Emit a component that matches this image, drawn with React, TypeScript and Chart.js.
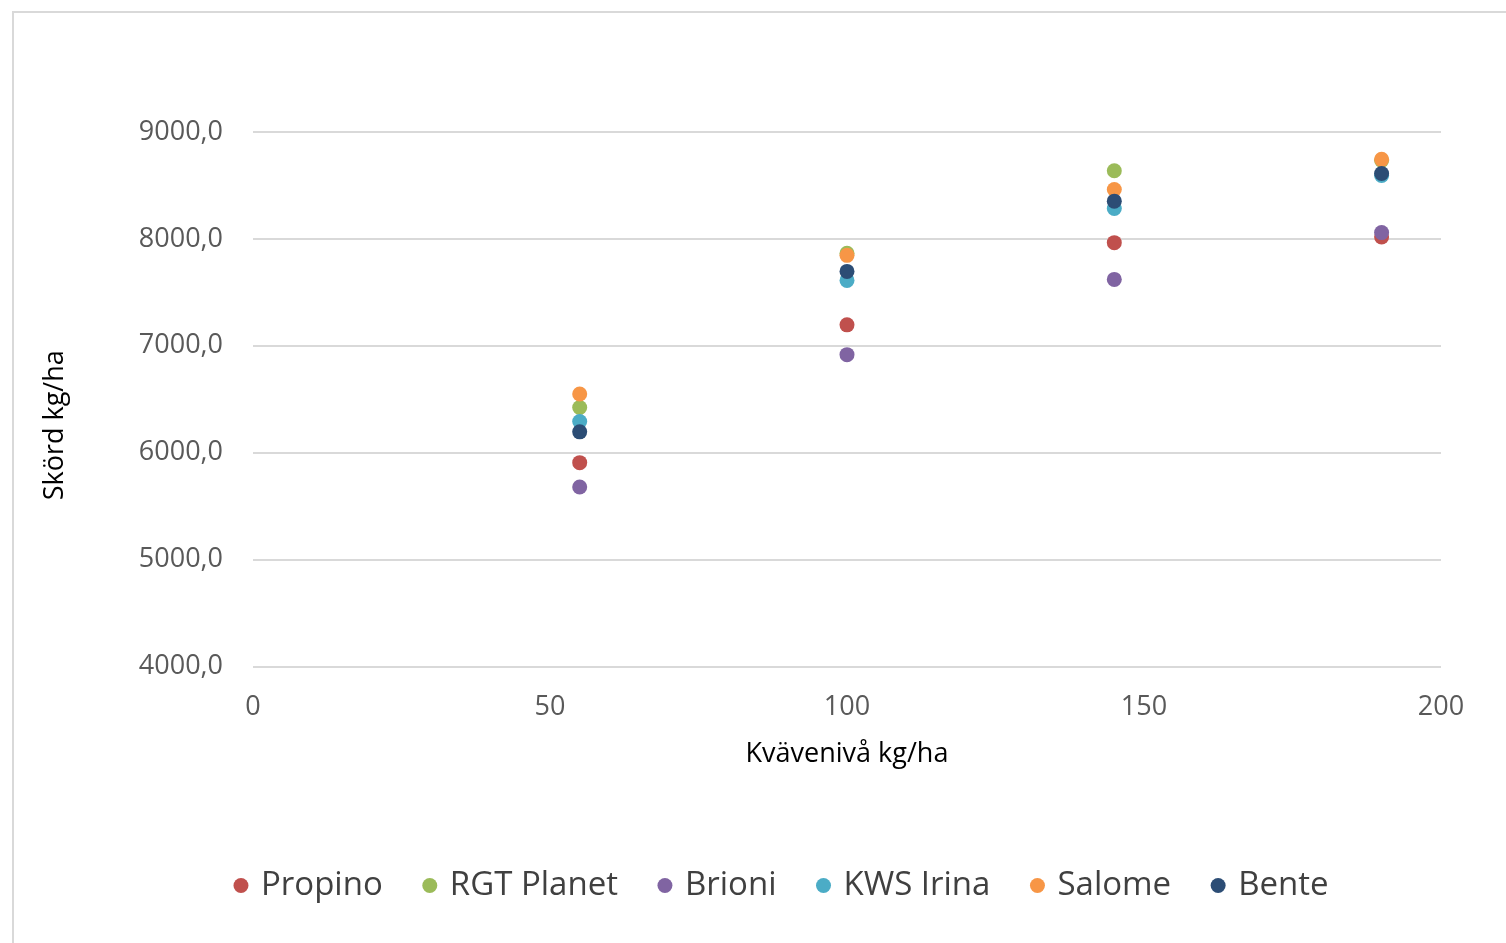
import React, { useEffect, useRef } from "react";
import { Chart, registerables } from "chart.js";

Chart.register(...registerables);

// Nitrogen levels (kg/ha) and yield per variety (kg/ha)
const nitrogenLevels = [55, 100, 145, 190];
const propino = [5907, 7196, 7965, 8018];
const rgtPlanet = [6423, 7865, 8637, 8735];
const brioni = [5679, 6917, 7621, 8059];
const kwsIrina = [6292, 7612, 8284, 8594];
const salome = [6549, 7846, 8462, 8744];
const bente = [6195, 7696, 8353, 8612];

const varieties = [
  { name: "Propino", values: propino, color: "#C0504D" },
  { name: "RGT Planet", values: rgtPlanet, color: "#9BBB59" },
  { name: "Brioni", values: brioni, color: "#8064A2" },
  { name: "KWS Irina", values: kwsIrina, color: "#4BACC6" },
  { name: "Salome", values: salome, color: "#F79646" },
  { name: "Bente", values: bente, color: "#2C4D75" },
];

const Y_TITLE = "Skörd kg/ha";
const X_TITLE = "Kvävenivå kg/ha";
const FONT = "'Open Sans', 'DejaVu Sans', sans-serif";

// Vertical axis title, placed a little below the plot's middle
const yTitlePlugin = {
  id: "yTitle",
  afterDraw(chart: any) {
    const { ctx, chartArea } = chart;
    ctx.save();
    ctx.translate(55, (chartArea.top + chartArea.bottom) / 2 + 26);
    ctx.rotate(-Math.PI / 2);
    ctx.font = `27px ${FONT}`;
    ctx.fillStyle = "#000000";
    ctx.textAlign = "center";
    ctx.textBaseline = "middle";
    ctx.fillText(Y_TITLE, 0, 0);
    ctx.restore();
  },
};

export default function App() {
  const canvasRef = useRef<HTMLCanvasElement | null>(null);

  useEffect(() => {
    if (!canvasRef.current) return;
    const chart = new Chart(canvasRef.current, {
      type: "scatter",
      data: {
        datasets: varieties.map((v, idx) => ({
          label: v.name,
          data: nitrogenLevels.map((x, i) => ({ x, y: v.values[i] })),
          backgroundColor: v.color,
          borderColor: v.color,
          borderWidth: 0,
          pointRadius: 7.5,
          pointHoverRadius: 7.5,
          showLine: false,
          // later series are painted over earlier ones
          order: -idx,
        })),
      },
      plugins: [yTitlePlugin],
      options: {
        responsive: false,
        animation: false,
        layout: { padding: { top: 132, right: 0, left: 60, bottom: 31 } },
        plugins: {
          tooltip: { enabled: false },
          legend: {
            position: "bottom",
            labels: {
              usePointStyle: true,
              pointStyle: "circle",
              boxWidth: 7,
              boxHeight: 10.6,
              padding: 43.5,
              color: "#404040",
              font: { family: FONT, size: 33 },
              sort: (a: any, b: any) => a.datasetIndex - b.datasetIndex,
            },
          },
        },
        scales: {
          x: {
            type: "linear",
            min: 0,
            max: 200,
            afterFit: (s: any) => {
              s.height = 159;
            },
            ticks: {
              stepSize: 50,
              padding: 25,
              color: "#595959",
              font: { family: FONT, size: 27 },
            },
            grid: { display: false, drawTicks: false },
            border: { display: false },
            title: {
              display: true,
              text: X_TITLE,
              color: "#000000",
              font: { family: FONT, size: 27 },
              padding: { top: 0, bottom: 55 },
            },
          },
          y: {
            min: 4000,
            max: 9000,
            afterFit: (s: any) => {
              s.width = 193;
            },
            ticks: {
              stepSize: 1000,
              padding: 30,
              color: "#595959",
              font: { family: FONT, size: 27 },
              callback: (v: any) => Number(v).toFixed(1).replace(".", ","),
            },
            grid: { color: "#D9D9D9", lineWidth: 2, drawTicks: false },
            border: { display: false },
          },
          // empty right-hand margin of the plot frame
          rightMargin: {
            type: "linear",
            position: "right",
            display: true,
            afterFit: (s: any) => {
              s.width = 65;
            },
            ticks: { display: false },
            grid: { display: false, drawTicks: false },
            border: { display: false },
          },
        },
      },
    });
    return () => chart.destroy();
  }, []);

  return (
    <div
      style={{
        position: "fixed",
        left: 0,
        top: 0,
        width: 1506,
        height: 943,
        overflow: "hidden",
        background: "#ffffff",
      }}
    >
      <div
        style={{
          position: "absolute",
          left: 12,
          top: 11,
          width: 1600,
          height: 1100,
          border: "2px solid #D9D9D9",
          boxSizing: "border-box",
        }}
      />
      <canvas
        ref={canvasRef}
        width={1506}
        height={943}
        style={{ position: "absolute", left: 0, top: 0, width: 1506, height: 943 }}
      />
    </div>
  );
}
